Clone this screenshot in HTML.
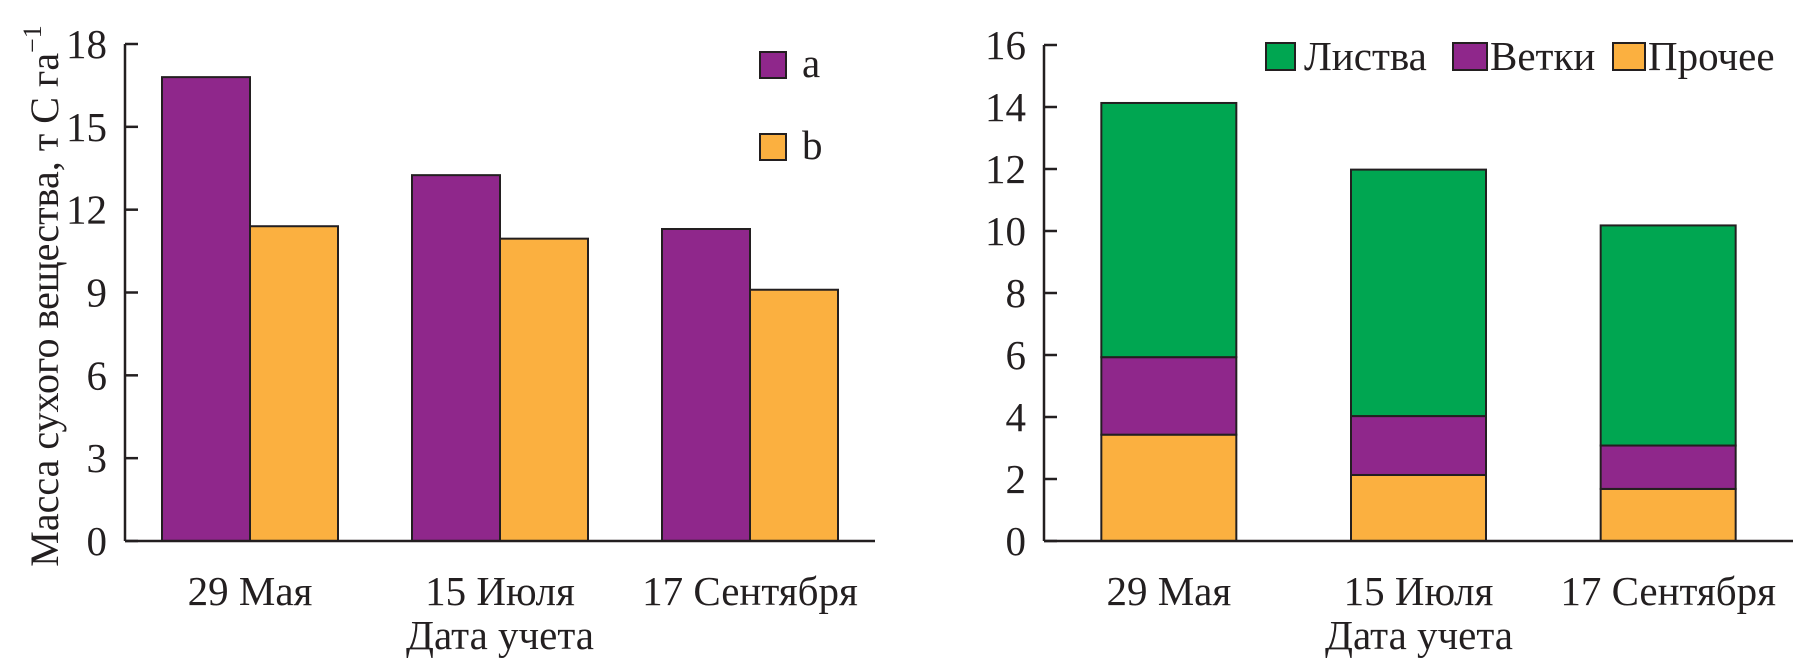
<!DOCTYPE html>
<html><head><meta charset="utf-8"><style>
body{margin:0;background:#fff}
svg text{font-family:"Liberation Serif",serif;fill:#231f20}
</style></head><body>
<svg id="c" width="1795" height="660" xmlns="http://www.w3.org/2000/svg"></svg>
<script>
const categories=["29 Мая","15 Июля","17 Сентября"];
const seriesA=[16.8,13.25,11.3];
const seriesB=[11.4,10.95,9.1];
const leaves=[8.2,7.95,7.1];
const branches=[2.5,1.9,1.4];
const other=[3.43,2.13,1.68];
const leftTicks=[0,3,6,9,12,15,18];
const rightTicks=[0,2,4,6,8,10,12,14,16];
const C={a:"#8f278b",b:"#fbb040",g:"#00a651"};
const svg=document.getElementById('c');
const NS="http://www.w3.org/2000/svg";
function el(t,a,p){const e=document.createElementNS(NS,t);for(const k in a)e.setAttribute(k,a[k]);(p||svg).appendChild(e);return e;}
const y0=541;
const FS=41;
// left
const L={x0:125,x1:875,top:44,max:18};
const ly=v=>y0-(y0-L.top)*v/L.max;
const lcx=i=>L.x0+(L.x1-L.x0)/3*(i+0.5);
const bw=88;
categories.forEach((c,i)=>{
 let r=el('rect',{x:lcx(i)-bw,y:ly(seriesA[i]),width:bw,height:y0-ly(seriesA[i]),fill:C.a,stroke:"#231f20","stroke-width":2});
 
 
 r=el('rect',{x:lcx(i),y:ly(seriesB[i]),width:bw,height:y0-ly(seriesB[i]),fill:C.b,stroke:"#231f20","stroke-width":2});
 
 
 const t=el('text',{x:lcx(i),y:605,"font-size":FS,"text-anchor":"middle"});t.textContent=c;
 
 
});
el('line',{x1:L.x0,y1:L.top,x2:L.x0,y2:y0,stroke:"#231f20","stroke-width":2.5});
el('line',{x1:L.x0,y1:y0,x2:L.x1,y2:y0,stroke:"#231f20","stroke-width":2.5});
leftTicks.forEach(v=>{
 el('line',{x1:L.x0,y1:ly(v),x2:L.x0+13,y2:ly(v),stroke:"#231f20","stroke-width":2.5});
 const t=el('text',{x:L.x0-18,y:ly(v)+14,"font-size":FS,"text-anchor":"end"});t.textContent=v;
 
 
});
// right
const R={x0:1044,x1:1793,top:45,max:16};
const ry=v=>y0-(y0-R.top)*v/R.max;
const rcx=i=>R.x0+(R.x1-R.x0)/3*(i+0.5);
const rw=135;
categories.forEach((c,i)=>{
 const parts=[[other[i],C.b,'other'],[branches[i],C.a,'branches'],[leaves[i],C.g,'leaves']];
 let base=0;
 parts.forEach(p=>{
  const r=el('rect',{x:rcx(i)-rw/2,y:ry(base+p[0]),width:rw,height:ry(base)-ry(base+p[0]),fill:p[1],stroke:"#231f20","stroke-width":2});
  
  
  base+=p[0];
 });
 const t=el('text',{x:rcx(i),y:605,"font-size":FS,"text-anchor":"middle"});t.textContent=c;
 
 
});
el('line',{x1:R.x0,y1:R.top,x2:R.x0,y2:y0,stroke:"#231f20","stroke-width":2.5});
el('line',{x1:R.x0,y1:y0,x2:R.x1,y2:y0,stroke:"#231f20","stroke-width":2.5});
rightTicks.forEach(v=>{
 el('line',{x1:R.x0,y1:ry(v),x2:R.x0+13,y2:ry(v),stroke:"#231f20","stroke-width":2.5});
 const t=el('text',{x:R.x0-18,y:ry(v)+14,"font-size":FS,"text-anchor":"end"});t.textContent=v;
 
 
});
</script>
<svg style="position:absolute;left:0;top:0" width="1795" height="660" xmlns="http://www.w3.org/2000/svg">
<text x="500" y="649" font-size="41" text-anchor="middle">Дата учета</text>
<text x="1419" y="649" font-size="41" text-anchor="middle">Дата учета</text>
<text transform="translate(58,296) rotate(-90)" font-size="40" text-anchor="middle">Масса сухого вещества, т C га<tspan dy="-17" font-size="26">−1</tspan></text>
<g><rect x="760" y="52" width="26" height="26" fill="#8f278b" stroke="#231f20" stroke-width="2"/><text x="802" y="77" font-size="41">a</text></g>
<g><rect x="760" y="134" width="26" height="26" fill="#fbb040" stroke="#231f20" stroke-width="2"/><text x="802" y="159" font-size="41">b</text></g>
<g><rect x="1266" y="43" width="29" height="27" fill="#00a651" stroke="#231f20" stroke-width="2"/><text x="1304" y="70" font-size="41">Листва</text></g>
<g><rect x="1453" y="43" width="34" height="27" fill="#8f278b" stroke="#231f20" stroke-width="2"/><text x="1490" y="70" font-size="41">Ветки</text></g>
<g><rect x="1613" y="43" width="32" height="27" fill="#fbb040" stroke="#231f20" stroke-width="2"/><text x="1648" y="70" font-size="41">Прочее</text></g>
</svg>
</body></html>
